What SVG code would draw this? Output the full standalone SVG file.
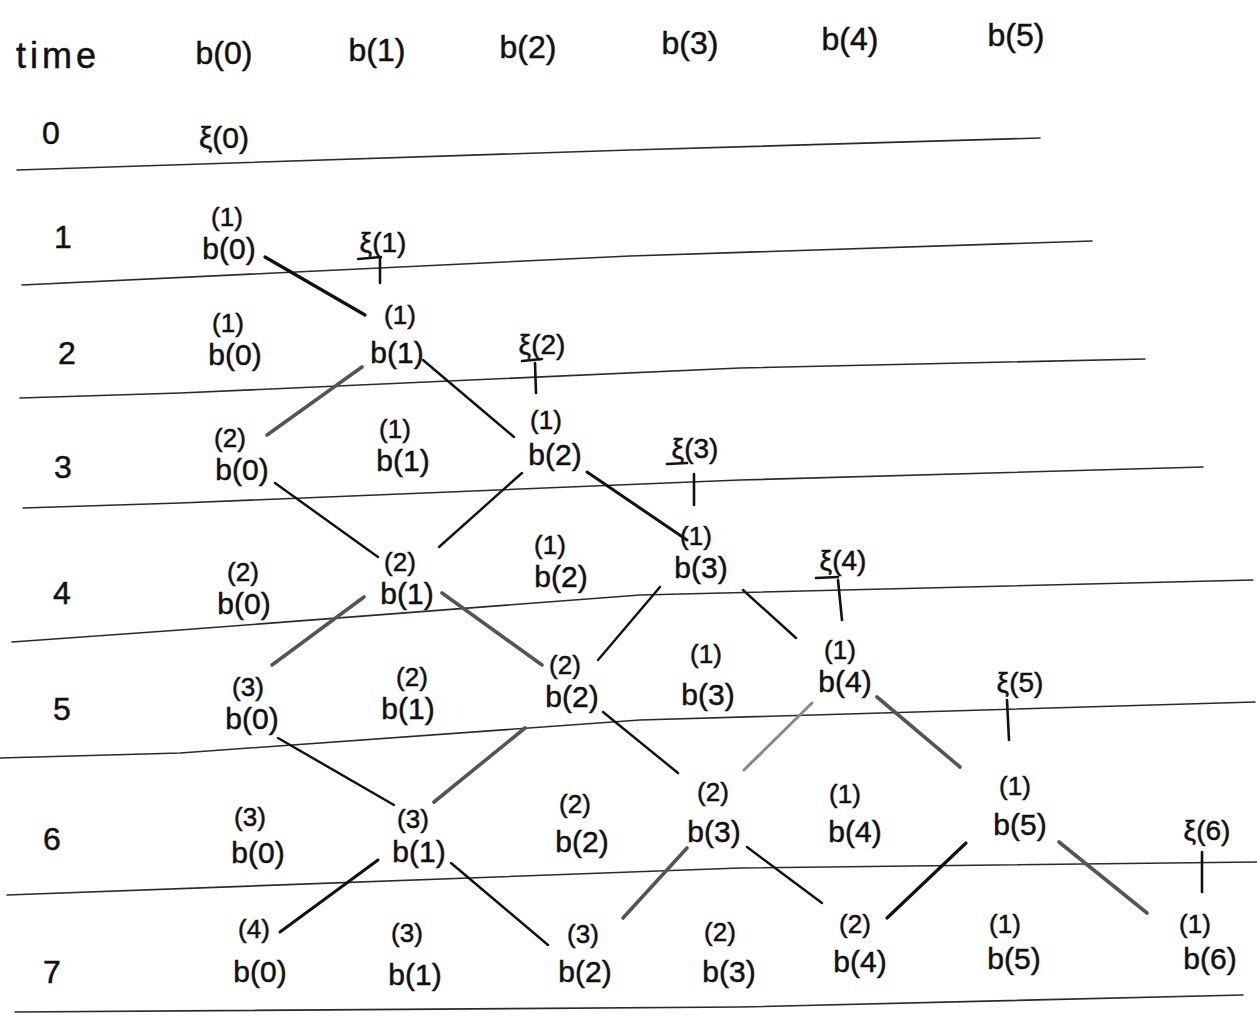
<svg xmlns="http://www.w3.org/2000/svg" width="1257" height="1016" viewBox="0 0 1257 1016">
<style>
text{font-family:"Liberation Sans","DejaVu Sans",sans-serif;fill:#111;stroke:#111;stroke-width:0.5;text-anchor:middle}
.hd{font-size:32px}
.rl{font-size:32px}
.sp{font-size:26px}
.b{font-size:30px}
.xi{font-size:28px}
.rule{fill:none;stroke:#2a2a2a;stroke-width:1.6;stroke-linecap:round}
.c{fill:none;stroke:#111;stroke-width:2.4;stroke-linecap:round}
.g{fill:none;stroke:#555;stroke-width:3.6;stroke-linecap:round}
.t{fill:none;stroke:#111;stroke-width:2.6;stroke-linecap:round}
</style>
<rect width="1257" height="1016" fill="#fff"/>
<g id="header">
<text class="hd" x="58" y="68" style="font-size:36px;letter-spacing:4px">time</text>
<text class="hd" x="224" y="64">b(0)</text>
<text class="hd" x="377" y="61">b(1)</text>
<text class="hd" x="528" y="58">b(2)</text>
<text class="hd" x="690" y="54">b(3)</text>
<text class="hd" x="850" y="50">b(4)</text>
<text class="hd" x="1016" y="46">b(5)</text>
</g>
<g id="rows">
<text class="rl" x="51" y="144">0</text>
<text class="rl" x="63" y="248">1</text>
<text class="rl" x="67" y="364">2</text>
<text class="rl" x="63" y="478">3</text>
<text class="rl" x="62" y="604">4</text>
<text class="rl" x="62" y="720">5</text>
<text class="rl" x="52" y="850">6</text>
<text class="rl" x="52" y="983">7</text>
</g>
<g id="grid">
<polyline class="rule" points="17,170 630,150 1040,138"/>
<polyline class="rule" points="22,285 630,256 1092,241"/>
<polyline class="rule" points="20,398 180,393 740,368 1145,359"/>
<polyline class="rule" points="23,508 180,503 740,480 1203,467"/>
<polyline class="rule" points="12,642 180,630 640,595 1253,580"/>
<polyline class="rule" points="0,758 180,753 640,720 1255,702"/>
<polyline class="rule" points="7,895 740,868 1257,862"/>
<polyline class="rule" points="15,1012 740,1007 1243,995"/>
</g>
<g id="xi-labels">
<text class="b" x="224" y="148">ξ(0)</text>
<text class="xi" x="383" y="252">ξ(1)</text>
<text class="xi" x="542" y="354">ξ(2)</text>
<text class="xi" x="695" y="458">ξ(3)</text>
<text class="xi" x="843" y="570">ξ(4)</text>
<text class="xi" x="1020" y="692">ξ(5)</text>
<text class="xi" x="1207" y="840">ξ(6)</text>
</g>
<g id="connectors">
<path class="t" d="M358 259 L381 257 M380 258 L380 283"/>
<path class="t" d="M522 361 L542 359 M535 363 L536 393"/>
<path class="t" d="M667 464 L687 463 M694 474 L694 505"/>
<path class="t" d="M816 578 L838 577 M838 580 L842 620"/>
<path class="t" d="M1007 700 L1009 740"/>
<path class="t" d="M1202 852 L1202 892"/>
<line class="c" style="stroke-width:3.2" x1="265" y1="257" x2="365" y2="315"/>
<line class="g" x1="362" y1="367" x2="267" y2="435"/>
<line class="c" x1="423" y1="360" x2="514" y2="437"/>
<line class="c" x1="275" y1="483" x2="378" y2="557"/>
<line class="c" x1="522" y1="473" x2="439" y2="547"/>
<line class="c" style="stroke-width:3" x1="587" y1="472" x2="687" y2="540"/>
<line class="g" x1="364" y1="597" x2="272" y2="665"/>
<line class="g" x1="442" y1="593" x2="542" y2="665"/>
<line class="c" x1="660" y1="587" x2="598" y2="660"/>
<line class="c" x1="743" y1="590" x2="796" y2="638"/>
<line class="c" x1="278" y1="738" x2="394" y2="805"/>
<line class="g" x1="525" y1="728" x2="434" y2="802"/>
<line class="c" x1="603" y1="712" x2="678" y2="773"/>
<line class="g" style="stroke:#888;stroke-width:3" x1="812" y1="703" x2="744" y2="770"/>
<line class="g" x1="877" y1="697" x2="960" y2="767"/>
<line class="c" style="stroke-width:3" x1="378" y1="860" x2="280" y2="932"/>
<line class="c" x1="451" y1="863" x2="548" y2="945"/>
<line class="g" x1="687" y1="848" x2="623" y2="918"/>
<line class="c" x1="747" y1="847" x2="822" y2="903"/>
<line class="c" style="stroke-width:3.2" x1="966" y1="843" x2="887" y2="918"/>
<line class="g" x1="1059" y1="842" x2="1147" y2="913"/>
</g>
<g id="n1-0"><text class="sp" x="227" y="226">(1)</text><text class="b" x="229" y="259">b(0)</text></g>
<g id="n2-0"><text class="sp" x="228" y="332">(1)</text><text class="b" x="235" y="365">b(0)</text></g>
<g id="n2-1"><text class="sp" x="400" y="324">(1)</text><text class="b" x="397" y="363">b(1)</text></g>
<g id="n3-0"><text class="sp" x="230" y="447">(2)</text><text class="b" x="242" y="480">b(0)</text></g>
<g id="n3-1"><text class="sp" x="395" y="438">(1)</text><text class="b" x="403" y="471">b(1)</text></g>
<g id="n3-2"><text class="sp" x="546" y="429">(1)</text><text class="b" x="555" y="465">b(2)</text></g>
<g id="n4-0"><text class="sp" x="243" y="581">(2)</text><text class="b" x="244" y="614">b(0)</text></g>
<g id="n4-1"><text class="sp" x="400" y="571">(2)</text><text class="b" x="407" y="604">b(1)</text></g>
<g id="n4-2"><text class="sp" x="550" y="554">(1)</text><text class="b" x="561" y="587">b(2)</text></g>
<g id="n4-3"><text class="sp" x="696" y="545">(1)</text><text class="b" x="701" y="578">b(3)</text></g>
<g id="n5-0"><text class="sp" x="248" y="696">(3)</text><text class="b" x="252" y="729">b(0)</text></g>
<g id="n5-1"><text class="sp" x="412" y="686">(2)</text><text class="b" x="408" y="719">b(1)</text></g>
<g id="n5-2"><text class="sp" x="565" y="674">(2)</text><text class="b" x="572" y="707">b(2)</text></g>
<g id="n5-3"><text class="sp" x="706" y="663">(1)</text><text class="b" x="708" y="705">b(3)</text></g>
<g id="n5-4"><text class="sp" x="840" y="659">(1)</text><text class="b" x="845" y="692">b(4)</text></g>
<g id="n6-0"><text class="sp" x="250" y="826">(3)</text><text class="b" x="258" y="863">b(0)</text></g>
<g id="n6-1"><text class="sp" x="413" y="828">(3)</text><text class="b" x="419" y="862">b(1)</text></g>
<g id="n6-2"><text class="sp" x="575" y="813">(2)</text><text class="b" x="582" y="852">b(2)</text></g>
<g id="n6-3"><text class="sp" x="713" y="801">(2)</text><text class="b" x="714" y="842">b(3)</text></g>
<g id="n6-4"><text class="sp" x="845" y="803">(1)</text><text class="b" x="855" y="842">b(4)</text></g>
<g id="n6-5"><text class="sp" x="1015" y="795">(1)</text><text class="b" x="1020" y="835">b(5)</text></g>
<g id="n7-0"><text class="sp" x="254" y="938">(4)</text><text class="b" x="260" y="982">b(0)</text></g>
<g id="n7-1"><text class="sp" x="407" y="942">(3)</text><text class="b" x="415" y="985">b(1)</text></g>
<g id="n7-2"><text class="sp" x="583" y="943">(3)</text><text class="b" x="585" y="982">b(2)</text></g>
<g id="n7-3"><text class="sp" x="720" y="941">(2)</text><text class="b" x="729" y="982">b(3)</text></g>
<g id="n7-4"><text class="sp" x="855" y="933">(2)</text><text class="b" x="860" y="972">b(4)</text></g>
<g id="n7-5"><text class="sp" x="1005" y="933">(1)</text><text class="b" x="1014" y="969">b(5)</text></g>
<g id="n7-6"><text class="sp" x="1195" y="933">(1)</text><text class="b" x="1210" y="969">b(6)</text></g>
</svg>
